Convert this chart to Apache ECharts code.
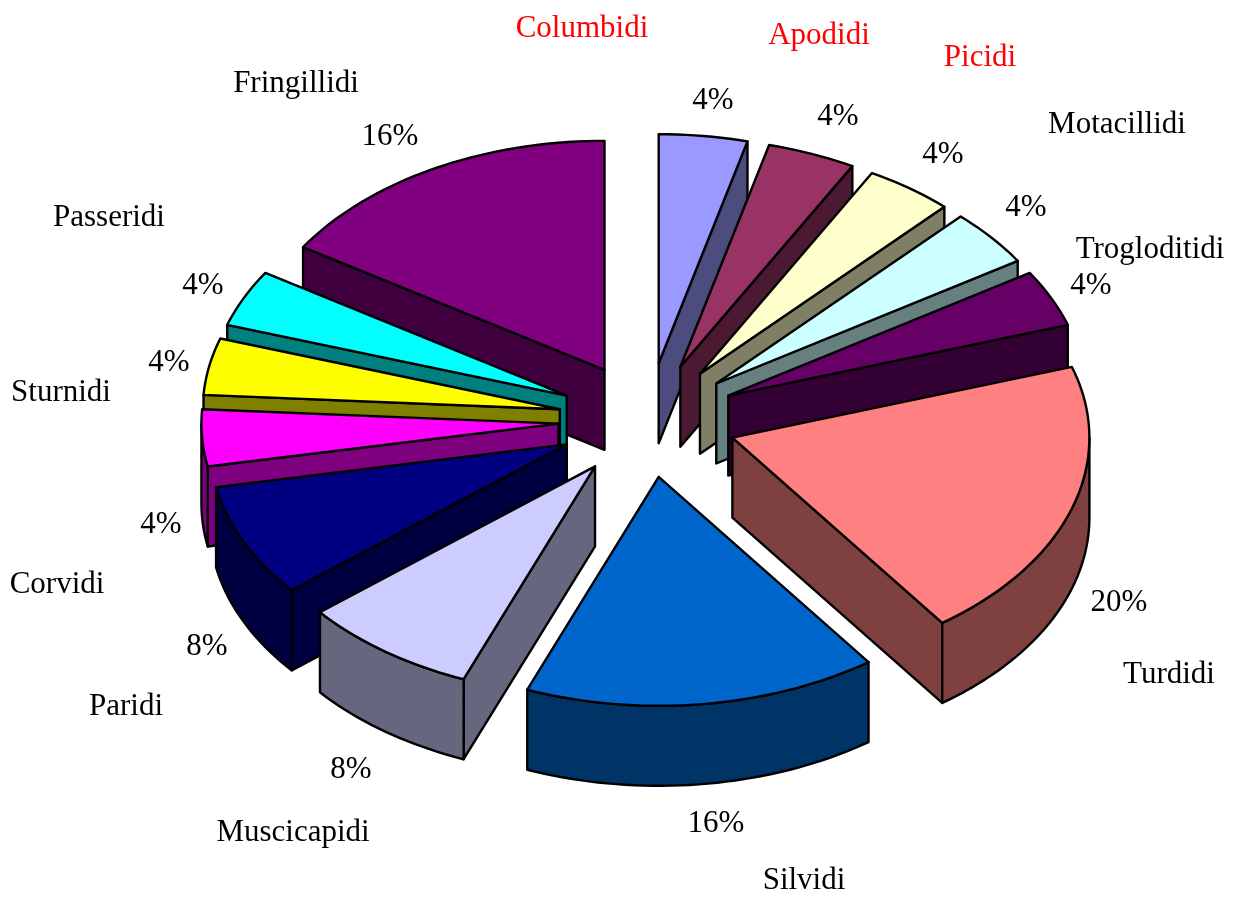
<!DOCTYPE html>
<html>
<head>
<meta charset="utf-8">
<title>Famiglie</title>
<script src="https://cdn.jsdelivr.net/npm/echarts@6/dist/echarts.min.js"></script>
<style>
  html, body { margin: 0; padding: 0; background: #fff; }
  #main { width: 1239px; height: 898px; }
</style>
</head>
<body>
<div id="main"></div>
<script>
// data
const families = ['Columbidi', 'Apodidi', 'Picidi', 'Motacillidi', 'Trogloditidi', 'Turdidi', 'Silvidi', 'Muscicapidi', 'Paridi', 'Corvidi', 'Sturnidi', 'Passeridi', 'Fringillidi']
const shares = [4, 4, 4, 4, 4, 20, 16, 8, 8, 4, 4, 4, 16]

// colours of the slice tops, the walls are the same colour at half brightness
const topColors = ['#9999ff', '#993366', '#ffffcc', '#ccffff', '#660066', '#ff8080', '#0066cc', '#ccccff', '#000080', '#ff00ff', '#ffff00', '#00ffff', '#800080']
const nameColors = ['#ff0000', '#ff0000', '#ff0000', '#000', '#000', '#000', '#000', '#000', '#000', '#000', '#000', '#000', '#000']

// label placement, the text was put by hand in the original
const nameAnchors = [[582, 26], [819, 33], [980, 55], [1117, 122], [1150, 247], [1169, 672], [804, 878], [293, 830], [126, 704], [57, 582], [61, 390], [109, 215], [296, 81]]
const shareAnchors = [[713, 98], [838, 114], [943, 152], [1026, 205], [1091, 283], [1119, 600], [716, 821], [351, 767], [207, 644], [161, 522], [169, 360], [203, 283], [390, 134]]

// 3D pie shape
const cx = 647.5
const cy = 420
const rx = 357
const ry = 229
const depth = 80
const explode = 0.25

const total = shares.reduce((a, b) => a + b, 0)

// start and end angle of each slice, degrees clockwise from 12 o'clock
const spans = []
let sum = 0
for (const v of shares) {
  spans.push([sum / total * 360, (sum + v) / total * 360])
  sum += v
}

function rad (deg) {
  return deg * Math.PI / 180
}

function halfColor (hex) {
  const n = parseInt(hex.slice(1), 16)
  const r = (n >> 16) >> 1
  const g = ((n >> 8) & 255) >> 1
  const b = (n & 255) >> 1
  return 'rgb(' + r + ',' + g + ',' + b + ')'
}

function rimPoint (apex, deg, down) {
  return [apex[0] + rx * Math.sin(rad(deg)), apex[1] - ry * Math.cos(rad(deg)) + down]
}

function arcPoints (apex, a0, a1, down) {
  const pts = []
  const steps = Math.max(2, Math.ceil((a1 - a0) / 1.5))
  for (let i = 0; i <= steps; i++) {
    pts.push(rimPoint(apex, a0 + (a1 - a0) * i / steps, down))
  }
  return pts
}

function face (points, fill) {
  return {
    type: 'polygon',
    shape: { points: points },
    style: { fill: fill, stroke: '#000', lineWidth: 2.4, lineJoin: 'round' }
  }
}

// back slices first so the front ones cover them
const drawOrder = shares.map((v, i) => i).sort((a, b) => {
  const ma = (spans[a][0] + spans[a][1]) / 2
  const mb = (spans[b][0] + spans[b][1]) / 2
  return Math.cos(rad(mb)) - Math.cos(rad(ma))
})

function renderSlice (params, api) {
  const idx = api.value(0)
  const a0 = spans[idx][0]
  const a1 = spans[idx][1]
  const mid = (a0 + a1) / 2
  const apex = [
    cx + explode * rx * Math.sin(rad(mid)),
    cy - explode * ry * Math.cos(rad(mid))
  ]
  const apexLow = [apex[0], apex[1] + depth]
  const wall = halfColor(topColors[idx])
  const children = []

  // cut faces, only those turned to the viewer
  if (Math.sin(rad(a0)) < -1e-6) {
    children.push(face([apex, rimPoint(apex, a0, 0), rimPoint(apex, a0, depth), apexLow], wall))
  }
  if (Math.sin(rad(a1)) > 1e-6) {
    children.push(face([apex, rimPoint(apex, a1, 0), rimPoint(apex, a1, depth), apexLow], wall))
  }
  // outer wall, front half of the ellipse only
  const w0 = Math.max(a0, 90)
  const w1 = Math.min(a1, 270)
  if (w1 > w0) {
    const upper = arcPoints(apex, w0, w1, 0)
    const lower = arcPoints(apex, w0, w1, depth).reverse()
    children.push(face(upper.concat(lower), wall))
  }
  // top
  children.push(face([apex].concat(arcPoints(apex, a0, a1, 0)), topColors[idx]))

  return { type: 'group', children: children }
}

function labelText (pos, text, color) {
  return {
    type: 'text',
    x: pos[0],
    y: pos[1] + 2.5,
    style: {
      text: text,
      fill: color,
      font: '31px "Liberation Serif", "Times New Roman", serif',
      align: 'center',
      verticalAlign: 'middle'
    }
  }
}

function renderLabel (params, api) {
  const idx = api.value(0)
  return {
    type: 'group',
    children: [
      labelText(nameAnchors[idx], families[idx], nameColors[idx]),
      labelText(shareAnchors[idx], shares[idx] + '%', '#000')
    ]
  }
}

const myChart = echarts.init(document.getElementById('main'), null, { renderer: 'canvas' })

const option = {
  animation: false,
  backgroundColor: '#fff',
  series: [
    {
      type: 'custom',
      coordinateSystem: 'none',
      renderItem: renderSlice,
      data: drawOrder.map(i => [i, shares[i]])
    },
    {
      type: 'custom',
      coordinateSystem: 'none',
      renderItem: renderLabel,
      data: shares.map((v, i) => [i, v])
    }
  ]
}
myChart.setOption(option)
</script>
</body>
</html>
